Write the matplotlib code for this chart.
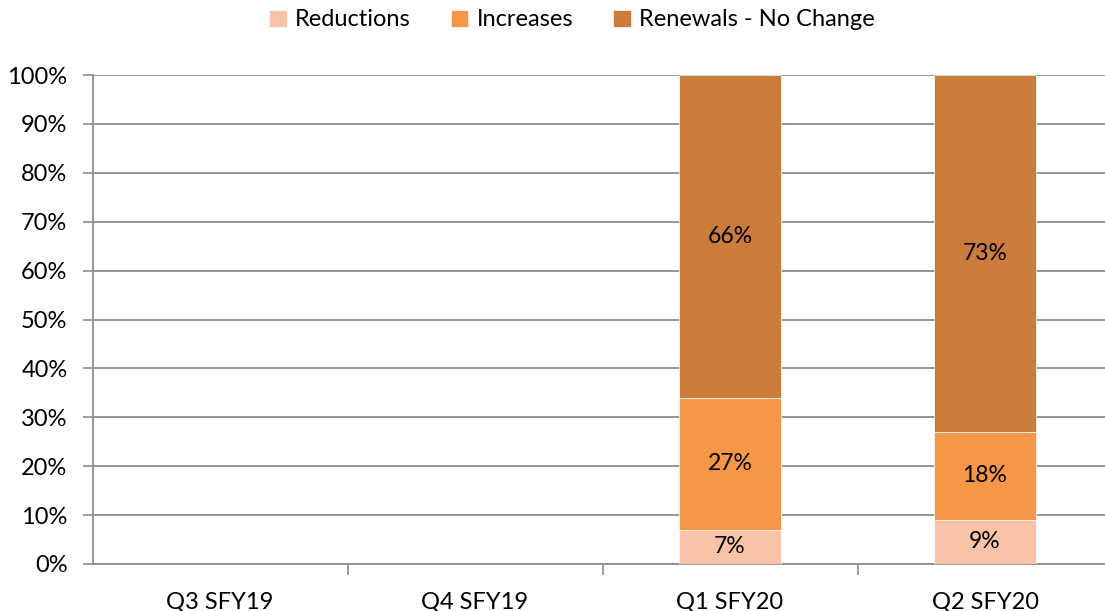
import matplotlib
matplotlib.use("Agg")
import matplotlib.pyplot as plt
import numpy as np
from matplotlib.ticker import PercentFormatter

plt.rcParams['font.family'] = ['Lato', 'DejaVu Sans']

categories = ["Q3 SFY19", "Q4 SFY19", "Q1 SFY20", "Q2 SFY20"]
reductions = [0, 0, 7, 9]
increases = [0, 0, 27, 18]
renewals = [0, 0, 66, 73]
series_names = ["Reductions", "Increases", "Renewals - No Change"]
colors = ["#F8C3A6", "#F59746", "#CB7B3A"]

W, H = 1105, 611
fig = plt.figure(figsize=(W / 100, H / 100), dpi=100)
x0, x1 = 92.5, 1112.5
y0, y1 = 564, 75
ax = fig.add_axes([x0 / W, 1 - y0 / H, (x1 - x0) / W, (y0 - y1) / H])

x = np.arange(len(categories))
bottom = np.zeros(len(categories))
for name, vals, c in zip(series_names, [reductions, increases, renewals], colors):
    vals = np.array(vals, dtype=float)
    ax.bar(x, vals, 0.4, bottom=bottom, color=c, label=name,
           edgecolor="white", linewidth=0.5, zorder=3)
    for xi, v, b in zip(x, vals, bottom):
        if v > 0:
            ax.text(xi, b + v / 2, f"{v:.0f}%", ha="center", va="center",
                    fontsize=16.5, color="black", zorder=4)
    bottom += vals

ax.set_xlim(-0.5, len(categories) - 0.5)
ax.set_ylim(0, 100)
ax.set_yticks(np.arange(0, 101, 10))
ax.yaxis.set_major_formatter(PercentFormatter(decimals=0))
ax.set_xticks(x)
ax.set_xticklabels(categories)
ax.set_xticks(np.arange(0.5, len(categories) - 0.5, 1), minor=True)
ax.tick_params(axis="x", which="major", length=0, pad=20, labelsize=17)
ax.tick_params(axis="x", which="minor", length=8, width=1.2, color="#8C8C8C", direction="out")
ax.tick_params(axis="y", length=7, width=1.2, color="#8C8C8C", labelsize=17, pad=11)
ax.grid(axis="y", color="#8C8C8C", linewidth=1.3, zorder=0)
for s in ["top", "right"]:
    ax.spines[s].set_visible(False)
for s in ["left", "bottom"]:
    ax.spines[s].set_color("#8C8C8C")
    ax.spines[s].set_linewidth(1.3)
ax.set_axisbelow(True)

leg = fig.legend(loc="center", bbox_to_anchor=(572 / W, 1 - 20 / H), ncol=3,
                 frameon=False, fontsize=17, handlelength=0.75, handleheight=0.75,
                 handletextpad=0.35, columnspacing=1.7)

fig.savefig("out.png", dpi=100)
